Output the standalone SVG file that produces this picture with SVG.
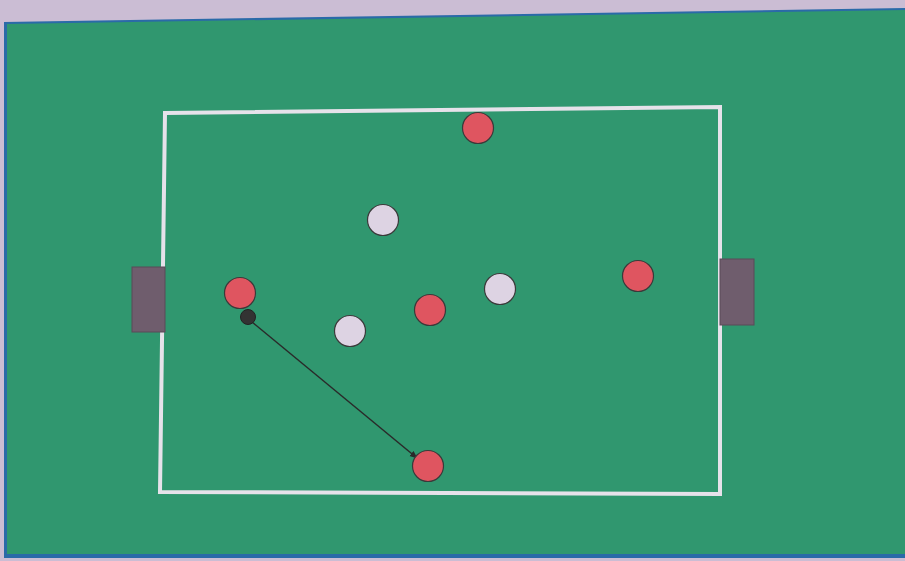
<svg xmlns="http://www.w3.org/2000/svg" width="905" height="561" viewBox="0 0 905 561">
<defs>
<style>
.red{fill:#df5560;stroke:#3a3a3a;stroke-width:1.2}
.wht{fill:#ddd3e3;stroke:#3a3a3a;stroke-width:1.2}
.goal{fill:#6f5d6d;stroke:#5a4a58;stroke-width:1}
.line{fill:none;stroke:#e6e2ea;stroke-width:4}
</style>
<marker id="ah" viewBox="0 0 10 10" refX="9" refY="5" markerWidth="8" markerHeight="8" orient="auto" markerUnits="userSpaceOnUse">
<path d="M0,1 L10,5 L0,9 z" fill="#2a2a2a"/>
</marker>
</defs>
<rect width="905" height="561" fill="#cbbdd4"/>
<polygon points="4,22 905,8 905,558 4,558" fill="#2a6aa8"/>
<polygon points="7,24 905,10 905,554 7,554" fill="#30976f"/>
<polygon class="line" points="165,113 720,107 720,494 160,492"/>
<g id="goal-left"><rect class="goal" x="132" y="267" width="33" height="65"/></g>
<g id="goal-right"><rect class="goal" x="720" y="259" width="34" height="66"/></g>
<g id="connectors">
<line x1="252" y1="322" x2="417" y2="458" stroke="#2a2a2a" stroke-width="1.5" marker-end="url(#ah)"/>
</g>
<g id="r1"><circle class="red" cx="478" cy="128" r="15.5"/></g>
<g id="r2"><circle class="red" cx="240" cy="293" r="15.5"/></g>
<g id="r3"><circle class="red" cx="430" cy="310" r="15.5"/></g>
<g id="r4"><circle class="red" cx="638" cy="276" r="15.5"/></g>
<g id="r5"><circle class="red" cx="428" cy="466" r="15.5"/></g>
<g id="w1"><circle class="wht" cx="383" cy="220" r="15.5"/></g>
<g id="w2"><circle class="wht" cx="500" cy="289" r="15.5"/></g>
<g id="w3"><circle class="wht" cx="350" cy="331" r="15.5"/></g>
<g id="ball"><circle cx="248" cy="317" r="7.5" fill="#333" stroke="#222"/></g>
</svg>
